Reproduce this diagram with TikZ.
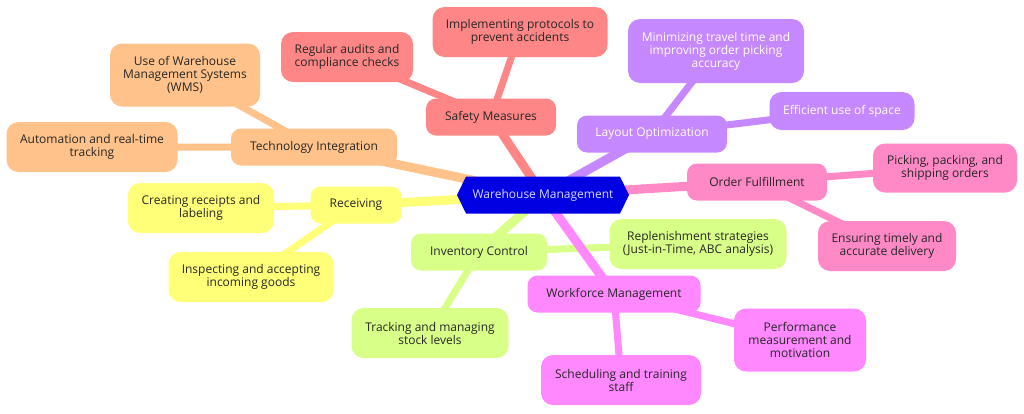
\documentclass[tikz,border=0pt]{standalone}
\usepackage{fontspec}
\setmainfont{Open Sans}
\usetikzlibrary{shapes.symbols, backgrounds}
\definecolor{hubblue}{RGB}{0,0,226}
\definecolor{techorange}{RGB}{255,194,138}
\definecolor{safetyred}{RGB}{255,134,134}
\definecolor{layoutpurple}{RGB}{198,136,255}
\definecolor{orderpink}{RGB}{255,136,198}
\definecolor{recvyellow}{RGB}{255,255,120}
\definecolor{invgreen}{RGB}{216,255,136}
\definecolor{workmagenta}{RGB}{255,136,255}
\tikzset{
    x=1pt, y=-1pt, % one unit is one pixel of the page, y runs down
    every node/.style={font=\fontsize{12}{13}\selectfont, align=center, text=black!85, inner sep=0pt},
    hub/.style={signal, signal to=west and east, signal pointer angle=128, fill=hubblue, text=white!85!blue, minimum width=172pt, minimum height=37pt}, % the centre
    topic/.style={rounded corners=10pt, minimum height=37pt}, % first ring
    leaf/.style={rounded corners=12pt}, % outer ring
    link/.style={line width=9pt}, % centre to topic
    twig/.style={line width=7pt}, % topic to leaf
}

\begin{document}
\begin{tikzpicture}
        \useasboundingbox (0,0) rectangle (1024,413);
        \node[hub] (wm) at (543,195) {Warehouse Management};

        \node[topic, fill=techorange, minimum width=166pt] (tech) at (314,147) {Technology Integration};
        \node[leaf, fill=techorange, minimum width=150pt, minimum height=63pt] (wms) at (185,75) {Use of Warehouse\\Management Systems\\(WMS)};
        \node[leaf, fill=techorange, minimum width=171pt, minimum height=50pt] (auto) at (92,147) {Automation and real-time\\tracking};

        \node[topic, fill=safetyred, minimum width=130pt] (safety) at (491,117) {Safety Measures};
        \node[leaf, fill=safetyred, minimum width=132pt, minimum height=50pt] (audit) at (347,57) {Regular audits and\\compliance checks};
        \node[leaf, fill=safetyred, minimum width=175pt, minimum height=50pt] (protect) at (520,32) {Implementing protocols to\\prevent accidents};

        \node[topic, fill=layoutpurple, text=white, minimum width=150pt] (layout) at (652,134) {Layout Optimization};
        \node[leaf, fill=layoutpurple, text=white, minimum width=176pt, minimum height=64pt] (travel) at (716,51) {Minimizing travel time and\\improving order picking\\accuracy};
        \node[leaf, fill=layoutpurple, text=white, minimum width=145pt, minimum height=38pt] (space) at (842,111) {Efficient use of space};

        \node[topic, fill=orderpink, minimum width=140pt] (order) at (757,182) {Order Fulfillment};
        \node[leaf, fill=orderpink, minimum width=144pt, minimum height=49pt] (pick) at (945,168) {Picking, packing, and\\shipping orders};
        \node[leaf, fill=orderpink, minimum width=138pt, minimum height=50pt] (deliver) at (887,246) {Ensuring timely and\\accurate delivery};

        \node[topic, fill=recvyellow, minimum width=91pt] (recv) at (356,205) {Receiving};
        \node[leaf, fill=recvyellow, minimum width=146pt, minimum height=50pt] (receipt) at (201,208) {Creating receipts and\\labeling};
        \node[leaf, fill=recvyellow, minimum width=165pt, minimum height=50pt] (inspect) at (251,277) {Inspecting and accepting\\incoming goods};

        \node[topic, fill=invgreen, minimum width=136pt] (inv) at (479,252) {Inventory Control};
        \node[leaf, fill=invgreen, minimum width=177pt, minimum height=50pt] (replen) at (698,244) {Replenishment strategies\\(Just-in-Time, ABC analysis)};
        \node[leaf, fill=invgreen, minimum width=157pt, minimum height=50pt] (stock) at (430,333) {Tracking and managing\\stock levels};

        \node[topic, fill=workmagenta, minimum width=173pt] (work) at (614,294) {Workforce Management};
        \node[leaf, fill=workmagenta, minimum width=132pt, minimum height=63pt] (perf) at (800,340) {Performance\\measurement and\\motivation};
        \node[leaf, fill=workmagenta, minimum width=160pt, minimum height=50pt] (sched) at (621,380) {Scheduling and training\\staff};

        \begin{scope}[on background layer]
            \draw[link, techorange] (wm.center) -- (tech.center);
            \draw[twig, techorange] (tech.center) -- (wms.center) (tech.center) -- (auto.center);
            \draw[link, safetyred] (wm.center) -- (safety.center);
            \draw[twig, safetyred] (safety.center) -- (audit.center) (safety.center) -- (protect.center);
            \draw[link, layoutpurple] (wm.center) -- (layout.center);
            \draw[twig, layoutpurple] (layout.center) -- (travel.center) (layout.center) -- (space.center);
            \draw[link, orderpink] (wm.center) -- (order.center);
            \draw[twig, orderpink] (order.center) -- (pick.center) (order.center) -- (deliver.center);
            \draw[link, recvyellow] (wm.center) -- (recv.center);
            \draw[twig, recvyellow] (recv.center) -- (receipt.center) (recv.center) -- (inspect.center);
            \draw[link, invgreen] (wm.center) -- (inv.center);
            \draw[twig, invgreen] (inv.center) -- (replen.center) (inv.center) -- (stock.center);
            \draw[link, workmagenta] (wm.center) -- (work.center);
            \draw[twig, workmagenta] (work.center) -- (perf.center) (work.center) -- (sched.center);
        \end{scope}
    \end{tikzpicture}
\end{document}
